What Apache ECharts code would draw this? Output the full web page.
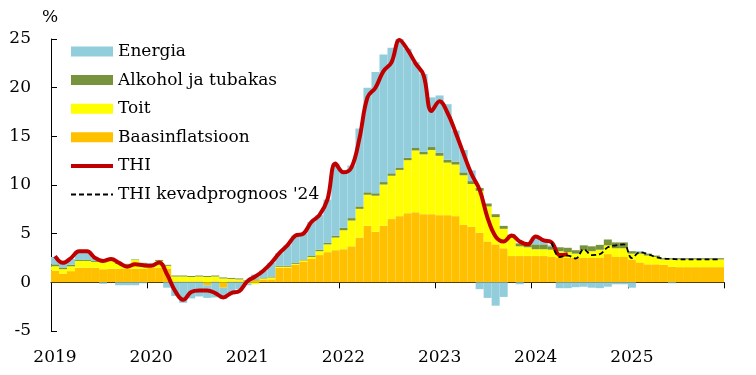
<!DOCTYPE html>
<html lang="et">
<head>
  <meta charset="UTF-8" />
  <title>THI komponendid</title>
  <style>
    * { margin: 0; padding: 0; }
    html, body { width: 756px; height: 375px; background: #fff; }
    #chart { width: 756px; height: 375px; }
  </style>
</head>
<body>
  <div id="chart"></div>
  <script src="https://cdn.jsdelivr.net/npm/echarts@6/dist/echarts.min.js"></script>
  <script>
    // kuud 2019-01 ... 2025-12
    var months = [];
    for (var y = 2019; y <= 2025; y++) {
      for (var m = 1; m <= 12; m++) months.push(y + '-' + (m < 10 ? '0' + m : m));
    }

    var baasinflatsioon = [
      1.2, 0.9, 1.15, 1.5, 1.5, 1.5, 1.35, 1.4, 1.4, 1.4, 1.4, 1.4,
      1.5, 1.5, 1.4, 0.1, 0.1, 0.1, 0.1, -0.3, 0.1, -0.55, 0.1, 0.1,
      0.1, 0.2, 0.3, 0.3, 1.5, 1.5, 1.8, 2.1, 2.4, 2.8, 3.1, 3.3,
      3.4, 3.7, 4.6, 5.8, 5.2, 5.8, 6.5, 6.8, 7.1, 7.2, 7.0, 7.0,
      6.9, 6.9, 6.8, 5.9, 5.7, 5.1, 4.2, 3.9, 3.5, 2.7, 2.7, 2.7,
      2.7, 2.7, 2.6, 2.5, 2.5, 2.5, 2.5, 2.5, 2.5, 2.9, 2.6, 2.6,
      2.35, 2.05, 1.85, 1.85, 1.8, 1.6, 1.56, 1.56, 1.56, 1.56, 1.56, 1.56
    ];
    var toit = [
      0.45, 0.45, 0.5, 0.7, 0.7, 0.6, 0.7, 0.8, 0.5, 0.4, 0.9, 0.5,
      0.3, 0.7, 0.3, 0.5, 0.5, 0.45, 0.5, 0.55, 0.5, 0.4, 0.25, 0.2,
      -0.1, -0.2, 0.1, 0.2, 0.1, 0.1, 0.1, 0.15, 0.2, 0.4, 0.8, 1.3,
      1.95, 2.65, 2.95, 3.2, 3.7, 4.25, 4.45, 4.75, 5.45, 6.35, 6.15, 6.6,
      6.1, 5.4, 5.3, 5.1, 4.4, 4.3, 3.6, 2.8, 2.0, 1.9, 1.0, 0.9,
      0.7, 0.7, 0.75, 0.7, 0.6, 0.45, 0.8, 0.7, 0.85, 0.9, 0.9, 0.9,
      0.6, 0.9, 0.9, 0.75, 0.55, 0.75, 0.79, 0.79, 0.79, 0.79, 0.79, 0.79
    ];
    var alkohol = [
      0.2, 0.17, 0.15, 0.1, 0.1, 0.1, 0.1, 0.1, 0.1, 0.1, 0.05, 0.1,
      0.1, 0.1, 0.1, 0.1, 0.1, 0.1, 0.1, 0.1, 0.1, 0.1, 0.1, 0.1,
      0.1, 0.1, 0.1, 0.1, 0.1, 0.1, 0.1, 0.1, 0.1, 0.15, 0.15, 0.2,
      0.25, 0.25, 0.25, 0.25, 0.25, 0.25, 0.25, 0.25, 0.25, 0.25, 0.25, 0.3,
      0.3, 0.3, 0.3, 0.3, 0.3, 0.3, 0.3, 0.3, 0.3, 0.3, 0.3, 0.3,
      0.5, 0.5, 0.35, 0.4, 0.45, 0.35, 0.5, 0.5, 0.5, 0.6, 0.6, 0.6,
      0.25, 0.15, 0.2, 0.15, 0.13, 0.13, 0.13, 0.13, 0.13, 0.13, 0.13, 0.13
    ];
    var energia = [
      0.75, 0.5, 0.6, 0.9, 0.9, 0.3, -0.15, 0.15, -0.3, -0.3, -0.3, -0.1,
      0.1, 0.0, -0.55, -1.4, -2.1, -1.65, -1.45, -1.3, -1.55, -1.15, -1.2, -0.7,
      -0.2, 0.5, 0.7, 1.4, 1.3, 2.1, 2.8, 2.65, 3.5, 3.55, 4.45, 7.4,
      5.9, 5.4, 8.0, 10.75, 12.45, 13.1, 12.9, 13.2, 11.2, 8.8, 8.0, 5.1,
      5.9, 5.7, 3.2, 2.3, 1.1, -0.7, -1.6, -2.4, -1.5, 0, -0.2, 0.2,
      0.6, 0.4, 0.1, -0.6, -0.6, -0.5, -0.45, -0.55, -0.6, -0.45, -0.2, -0.2,
      -0.55, 0.1, 0, 0, 0, -0.1, 0, 0, 0, 0, 0, 0
    ];
    // THI tegelik (kuni 2024-05)
    var thi = [
      2.7, 2.0, 2.5, 3.2, 3.2, 2.5, 2.2, 2.4, 2.0, 1.6, 1.85, 1.75,
      1.7, 2.05, 0.8, -0.9, -1.8, -1.0, -0.85, -0.85, -1.1, -1.55, -1.1, -0.9,
      0.1, 0.6, 1.2, 2.0, 3.0, 3.8, 4.8, 5.0, 6.2, 6.9, 8.5, 12.2,
      11.3, 11.8, 14.8, 19.0, 20.0, 21.7, 22.6, 24.9, 23.9, 22.5, 21.3, 17.6,
      18.6, 17.4, 15.4, 13.2, 11.1, 9.5, 6.6, 4.7, 4.2, 4.8, 4.2, 3.9,
      4.7, 4.3, 4.1, 2.8, 2.9
    ];
    // kevadprognoos '24 (alates 2024-03)
    var prognoosStart = 62;
    var prognoos = [
      4.1, 2.6, 2.75, 2.45, 3.4, 2.8, 2.9, 3.6, 3.8, 3.9,
      2.5, 3.1, 2.9, 2.6, 2.45, 2.4, 2.35, 2.35, 2.35, 2.35, 2.35, 2.35
    ];
    var yTicks = [-5, 0, 5, 10, 15, 20, 25];

    var thiData = months.map(function (d, i) { return i < thi.length ? thi[i] : null; });
    var progData = months.map(function (d, i) {
      return i >= prognoosStart ? prognoos[i - prognoosStart] : null;
    });

    var font = 'DejaVu Serif';
    var chart = echarts.init(document.getElementById('chart'));

    function bar(name, data, color) {
      return {
        name: name,
        type: 'bar',
        stack: 'thi',
        data: data,
        barCategoryGap: '0%',
        itemStyle: { color: color },
        emphasis: { disabled: true }
      };
    }

    var option = {
      animation: false,
      textStyle: { fontFamily: font, color: '#000' },
      title: {
        text: '%',
        left: 37,
        top: 4,
        textStyle: { fontFamily: font, fontSize: 17, fontWeight: 'normal', color: '#000' }
      },
      legend: {
        orient: 'vertical',
        left: 64,
        top: 37,
        itemWidth: 42,
        itemHeight: 10,
        itemGap: 9.6,
        textStyle: { fontFamily: font, fontSize: 17, lineHeight: 19, color: '#000' },
        data: [
          { name: 'Energia', icon: 'rect' },
          { name: 'Alkohol ja tubakas', icon: 'rect' },
          { name: 'Toit', icon: 'rect' },
          { name: 'Baasinflatsioon', icon: 'rect' },
          { name: 'THI', itemStyle: { opacity: 0 }, lineStyle: { width: 4 } },
          { name: "THI kevadprognoos '24", itemStyle: { opacity: 0 }, lineStyle: { width: 1.8 } }
        ]
      },
      grid: { left: 51, right: 32, top: 39, bottom: 44 },
      xAxis: [
        {
          type: 'category',
          data: months,
          boundaryGap: true,
          axisLine: { onZero: true, lineStyle: { color: '#000', width: 1 } },
          axisTick: {
            show: true,
            length: 6,
            interval: function (i) { return i % 12 === 0; },
            lineStyle: { color: '#000' }
          },
          axisLabel: { show: false },
          splitLine: { show: false }
        },
        {
          type: 'category',
          data: months,
          position: 'bottom',
          boundaryGap: true,
          axisLine: { show: false, onZero: false },
          axisTick: { show: false },
          axisLabel: {
            interval: function (i) { return i % 12 === 0; },
            formatter: function (v) { return v.slice(0, 4); },
            margin: 18,
            fontFamily: font,
            fontSize: 17,
            color: '#000'
          },
          splitLine: { show: false }
        }
      ],
      yAxis: {
        type: 'value',
        min: yTicks[0],
        max: yTicks[yTicks.length - 1],
        interval: 5,
        axisLine: { show: true, lineStyle: { color: '#000', width: 1 } },
        axisTick: { show: true, inside: true, length: 6, lineStyle: { color: '#000' } },
        axisLabel: { margin: 20, fontFamily: font, fontSize: 17, color: '#000' },
        splitLine: { show: false }
      },
      series: [
        bar('Baasinflatsioon', baasinflatsioon, '#FFC000'),
        bar('Toit', toit, '#FFFF00'),
        bar('Alkohol ja tubakas', alkohol, '#77933C'),
        bar('Energia', energia, '#92CDDC'),
        {
          name: 'THI',
          type: 'line',
          data: thiData,
          smooth: 0.4,
          symbol: 'none',
          lineStyle: { color: '#C00000', width: 4 },
          itemStyle: { color: '#C00000' },
          z: 5
        },
        {
          name: "THI kevadprognoos '24",
          type: 'line',
          data: progData,
          smooth: 0.4,
          symbol: 'none',
          lineStyle: { color: '#000', width: 1.8, type: [5, 3] },
          itemStyle: { color: '#000' },
          z: 6
        }
      ]
    };
    chart.setOption(option);
  </script>
</body>
</html>
